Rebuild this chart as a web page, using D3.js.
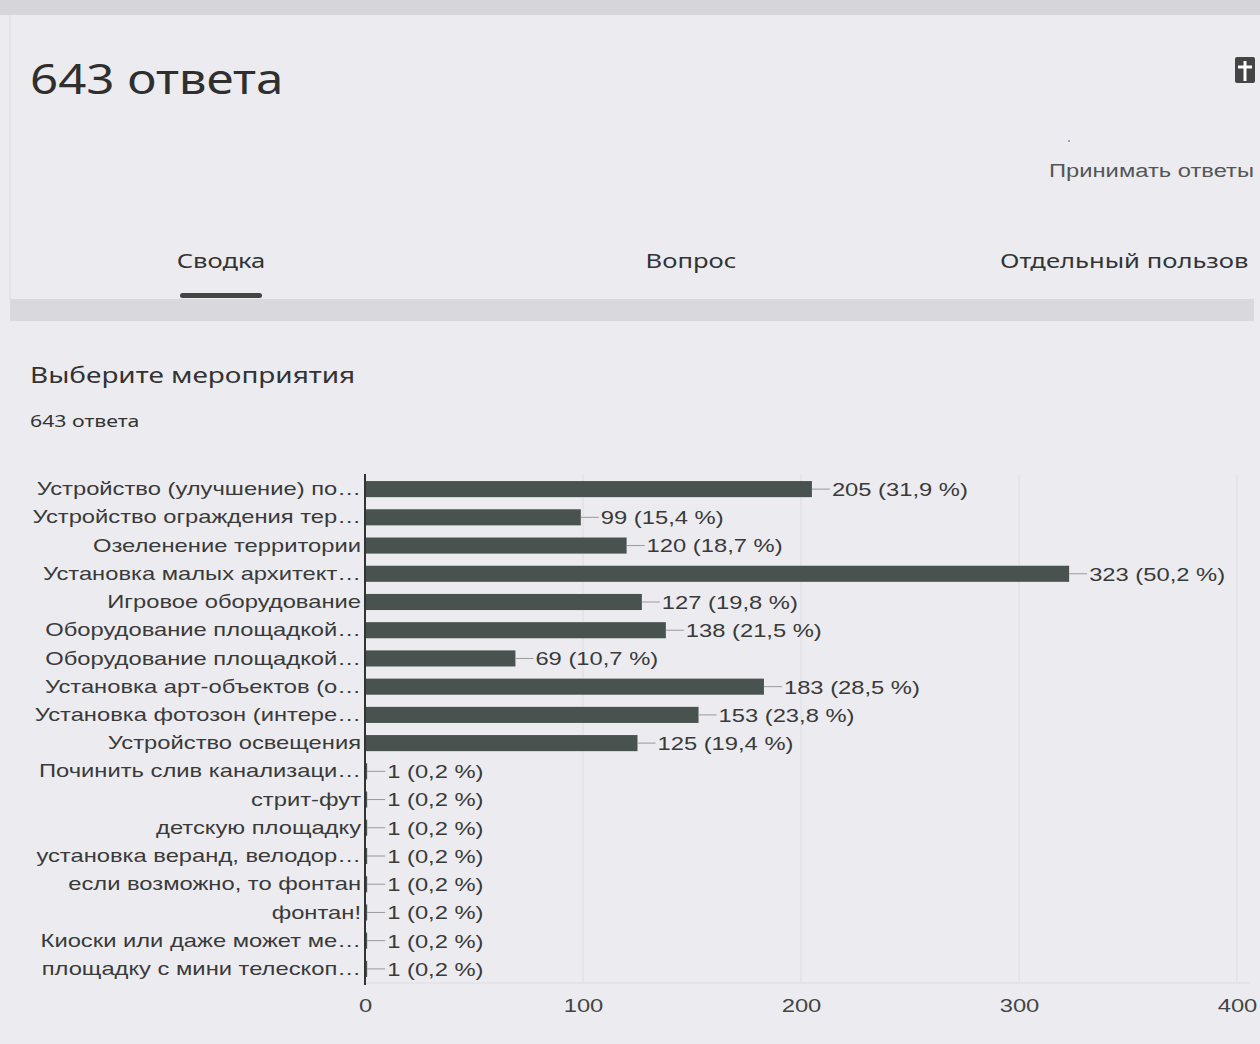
<!DOCTYPE html>
<html>
<head>
<meta charset="utf-8">
<script src="https://cdn.jsdelivr.net/npm/d3@7"></script>
<style>
  html, body { margin: 0; padding: 0; background: #ececf0; }
  svg { display: block; }
</style>
</head>
<body>
<script>
var width = 1260;
var height = 1044;

var categories = [
  "Устройство (улучшение) по…",
  "Устройство ограждения тер…",
  "Озеленение территории",
  "Установка малых архитект…",
  "Игровое оборудование",
  "Оборудование площадкой…",
  "Оборудование площадкой…",
  "Установка арт-объектов (о…",
  "Установка фотозон (интере…",
  "Устройство освещения",
  "Починить слив канализаци…",
  "стрит-фут",
  "детскую площадку",
  "установка веранд, велодор…",
  "если возможно, то фонтан",
  "фонтан!",
  "Киоски или даже может ме…",
  "площадку с мини телескоп…"
];
var counts = [205, 99, 120, 323, 127, 138, 69, 183, 153, 125, 1, 1, 1, 1, 1, 1, 1, 1];
var percents = ["31,9", "15,4", "18,7", "50,2", "19,8", "21,5", "10,7", "28,5", "23,8", "19,4",
                "0,2", "0,2", "0,2", "0,2", "0,2", "0,2", "0,2", "0,2"];
var xTicks = [0, 100, 200, 300, 400];

var headFont = "'Noto Sans', 'Open Sans', sans-serif";
var chartFont = "'Liberation Sans', Arial, sans-serif";
var sx = 1.25; // the screenshot is stretched sideways

var svg = d3.select("body")
    .append("svg")
    .attr("width", width)
    .attr("height", height);

// text placed at (tx, ty), widened by k
var wideText = function (parent, tx, ty, k, anchor) {
    return parent.append("text")
        .attr("transform", "translate(" + tx + "," + ty + ") scale(" + k + ",1)")
        .attr("text-anchor", anchor || "start");
};

// top strip of the page, cut off
svg.append("rect").attr("x", 0).attr("y", 0).attr("width", width).attr("height", 15).style("fill", "#d6d6da");
svg.append("line").attr("x1", 10).attr("y1", 15).attr("x2", 10).attr("y2", 300)
    .style("stroke", "#dcdce0").style("stroke-width", 1);

wideText(svg, 30, 94, 1.2)
    .style("font-family", headFont).style("font-size", "41px").style("fill", "#2f2f2f")
    .text("643 ответа");

// icon top right
var icon = svg.append("g");
icon.append("rect").attr("x", 1235).attr("y", 57).attr("width", 20).attr("height", 26).attr("rx", 2).style("fill", "#444");
icon.append("line").attr("x1", 1245).attr("y1", 61).attr("x2", 1245).attr("y2", 81).style("stroke", "#fff").style("stroke-width", 3);
icon.append("line").attr("x1", 1238).attr("y1", 67).attr("x2", 1252).attr("y2", 67).style("stroke", "#fff").style("stroke-width", 3);

svg.append("circle").attr("cx", 1069).attr("cy", 141).attr("r", 1).style("fill", "#8888bb");

wideText(svg, 1254, 177, 1.32, "end")
    .style("font-family", chartFont).style("font-size", "18px").style("fill", "#555")
    .text("Принимать ответы");

// tabs (the last one runs off the page in the screenshot)
var tabs = [
  { label: "Сводка", x: 221, anchor: "middle" },
  { label: "Вопрос", x: 691, anchor: "middle" },
  { label: "Отдельный пользов", x: 1000, anchor: "start" }
];
var tabG = svg.append("g");
tabs.forEach(function (t) {
    wideText(tabG, t.x, 268, 1.28, t.anchor)
        .style("font-family", headFont).style("font-size", "20px").style("fill", "#333")
        .text(t.label);
});
svg.append("rect").attr("x", 180).attr("y", 293).attr("width", 82).attr("height", 5).attr("rx", 2.5).style("fill", "#444");
svg.append("rect").attr("x", 10).attr("y", 299).attr("width", 1244).attr("height", 22).style("fill", "#d9d9dd");

wideText(svg, 30, 383, 1.27)
    .style("font-family", headFont).style("font-size", "22px").style("fill", "#333")
    .text("Выберите мероприятия");
wideText(svg, 30, 427, 1.25)
    .style("font-family", headFont).style("font-size", "17px").style("fill", "#333")
    .text("643 ответа");

// chart
var x = d3.scaleLinear().domain([0, 400]).range([365, 1237]);
var y = d3.scaleBand().domain(d3.range(categories.length)).range([475, 983]).paddingInner(0.43).paddingOuter(0.215);

var grid = svg.append("g");
grid.selectAll("line").data(xTicks.slice(1)).enter().append("line")
    .attr("x1", function (d) { return x(d); })
    .attr("x2", function (d) { return x(d); })
    .attr("y1", 475).attr("y2", 983)
    .style("stroke", "#dedee2").style("stroke-width", 1);
grid.append("line").attr("x1", 365).attr("x2", 1250).attr("y1", 983).attr("y2", 983)
    .style("stroke", "#dedee2").style("stroke-width", 1);

var rows = svg.append("g").selectAll("g").data(counts).enter().append("g");
rows.append("rect")
    .attr("x", x(0))
    .attr("y", function (d, i) { return y(i); })
    .attr("width", function (d) { return x(d) - x(0); })
    .attr("height", y.bandwidth())
    .style("fill", "#48524e");
rows.append("line")
    .attr("x1", function (d) { return x(d); })
    .attr("x2", function (d) { return x(d) + 18; })
    .attr("y1", function (d, i) { return y(i) + y.bandwidth() / 2; })
    .attr("y2", function (d, i) { return y(i) + y.bandwidth() / 2; })
    .style("stroke", "#999").style("stroke-width", 1);
rows.append("text")
    .attr("transform", function (d, i) {
        return "translate(" + (x(d) + 20) + "," + (y(i) + y.bandwidth() / 2) + ") scale(" + sx + ",1)";
    })
    .attr("dy", "0.36em")
    .style("font-family", chartFont).style("font-size", "19px").style("fill", "#3a3a3a")
    .text(function (d, i) { return d + " (" + percents[i] + " %)"; });

var yAxis = svg.append("g")
    .attr("transform", "translate(" + x(0) + ",0)")
    .call(d3.axisLeft(y).tickSize(0).tickPadding(4).tickFormat(function (i) { return categories[i]; }));
yAxis.select(".domain").remove();
yAxis.selectAll("text")
    .attr("x", -4 / sx)
    .attr("transform", "scale(" + sx + ",1)")
    .style("font-family", chartFont).style("font-size", "19px").style("fill", "#3a3a3a");

svg.append("line").attr("x1", x(0)).attr("x2", x(0)).attr("y1", 474).attr("y2", 985)
    .style("stroke", "#333").style("stroke-width", 2);

var xAxis = svg.append("g")
    .attr("transform", "translate(0,995)")
    .call(d3.axisBottom(x).tickValues(xTicks).tickSize(0).tickPadding(4));
xAxis.select(".domain").remove();
xAxis.selectAll("text")
    .attr("transform", "scale(" + sx + ",1)")
    .style("font-family", chartFont).style("font-size", "19px").style("fill", "#444");
</script>
</body>
</html>
